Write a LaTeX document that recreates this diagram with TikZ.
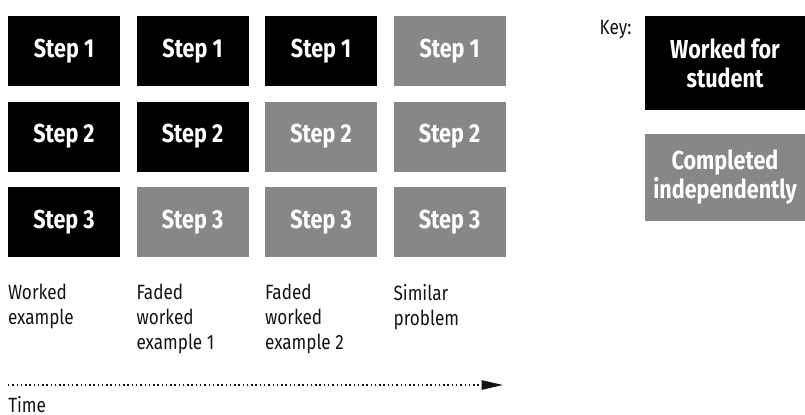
\documentclass[tikz,border=0pt]{standalone}
\usepackage{fontspec}
\setmainfont{Fira Sans}[FakeStretch=0.83]
\usetikzlibrary{arrows.meta, positioning}
\definecolor{wkblack}{RGB}{0,0,0}
\definecolor{wkgrey}{RGB}{135,135,135}
\definecolor{wktext}{RGB}{20,20,20}
\tikzset{
  worked/.style  = {rectangle, fill=wkblack, text=white, align=center,
                    minimum width=84pt, minimum height=52.5pt, inner sep=0pt,
                    font=\bfseries\fontsize{19.5}{21.75}\selectfont},
  indep/.style   = {worked, fill=wkgrey},
  keybox/.style  = {minimum width=120pt},
  caption/.style = {align=left, inner sep=0pt, text=wktext,
                    font=\fontsize{15.5}{18.75}\selectfont},
  timeflow/.style = {-{Triangle[length=16pt, width=7pt]}, line width=1.1pt,
                     dash pattern=on 1.1pt off 2.1pt, draw=wktext},
}
\begin{document}
\begin{tikzpicture}[node distance=11.25pt and 12pt]
  \useasboundingbox (0,0) rectangle (603.75pt,-310.5pt);
  % step grid: columns run left to right in time
  \node[worked] (b11) at (48pt,-38.25pt) {Step 1};
  \node[worked, below=of b11] (b12) {Step 2};
  \node[worked, below=of b12] (b13) {Step 3};
  \node[worked, right=of b11] (b21) {Step 1};
  \node[worked, below=of b21] (b22) {Step 2};
  \node[indep,  below=of b22] (b23) {Step 3};
  \node[worked, right=of b21] (b31) {Step 1};
  \node[indep,  below=of b31] (b32) {Step 2};
  \node[indep,  below=of b32] (b33) {Step 3};
  \node[indep,  right=of b31] (b41) {Step 1};
  \node[indep,  below=of b41] (b42) {Step 2};
  \node[indep,  below=of b42] (b43) {Step 3};
  % captions under each column
  \node[caption, below=20pt of b13.south west, anchor=north west] (c1) {Worked\\example};
  \node[caption, below=20pt of b23.south west, anchor=north west] (c2) {Faded\\worked\\example 1};
  \node[caption, below=20pt of b33.south west, anchor=north west] (c3) {Faded\\worked\\example 2};
  \node[caption, below=20pt of b43.south west, anchor=north west] (c4) {Similar\\problem};
  % time axis
  \coordinate (t0) at (6pt,-288.75pt);
  \coordinate (t1) at (377.25pt,-288.75pt);
  \draw[timeflow] (t0) -- (t1);
  \node[caption, below=8.5pt of t0, anchor=north west] (time) {Time};
  % key
  \node[worked, keybox, minimum height=70.5pt] (k1) at (543.75pt,-47.25pt) {Worked for\\student};
  \node[indep, keybox, minimum height=65.25pt, below=17.25pt of k1] (k2) {Completed\\independently};
  \node[caption, anchor=north east] (key) at ([xshift=-9.75pt, yshift=-3.5pt]k1.north west) {Key:};
\end{tikzpicture}
\end{document}
